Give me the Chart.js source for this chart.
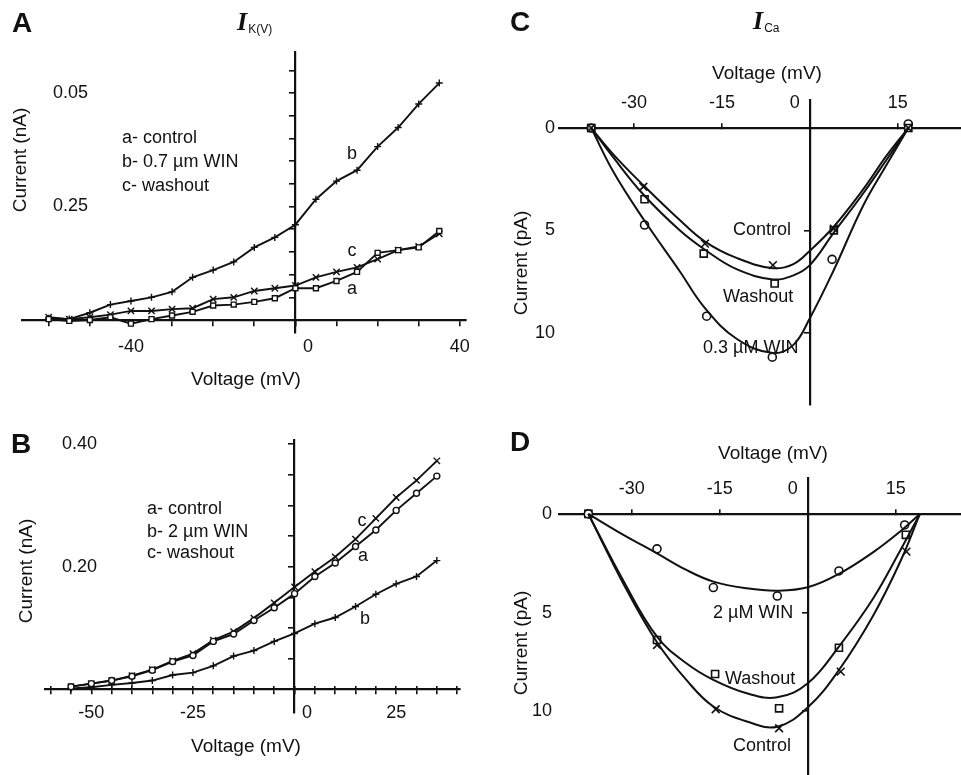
<!DOCTYPE html>
<html>
<head>
<meta charset="utf-8">
<title>I K(V) and I Ca current-voltage curves</title>
<script src="https://cdn.jsdelivr.net/npm/chart.js@4/dist/chart.umd.min.js"></script>
<style>
  body { margin: 0; background: #fff; }
  #fig { position: relative; width: 961px; height: 775px; overflow: hidden; font-family: "Liberation Sans", Arial, sans-serif; color: #111; }
  #fig canvas { position: absolute; }
  .t { position: absolute; white-space: nowrap; font-size: 18px; line-height: 1; }
  .mid { transform: translate(-50%, -50%); }
  .lft { transform: translateY(-50%); }
  .rot { transform: translate(-50%, -50%) rotate(-90deg); }
  .ax { font-size: 19px; }
  .panel { font-weight: bold; font-size: 28px; }
  .cur { font-family: "Liberation Serif", serif; font-style: italic; font-weight: bold; font-size: 26px; }
  .cur span { font-family: "Liberation Sans", Arial, sans-serif; font-style: normal; font-weight: normal; font-size: 12px; vertical-align: -3px; margin-left: 1px; }
</style>
</head>
<body>
<div id="fig">
  <canvas id="chartA" width="480" height="395" style="left:0;top:0"></canvas>
  <canvas id="chartB" width="480" height="380" style="left:0;top:395px"></canvas>
  <canvas id="chartC" width="481" height="420" style="left:480px;top:0"></canvas>
  <canvas id="chartD" width="481" height="355" style="left:480px;top:420px"></canvas>

  <!-- panel A -->
  <div class="t panel mid" style="left:22px;top:23px">A</div>
  <div class="t cur" style="left:237px;top:9px">I<span>K(V)</span></div>
  <div class="t lft" style="left:122px;top:137px">a- control</div>
  <div class="t lft" style="left:122px;top:161px">b- 0.7 µm WIN</div>
  <div class="t lft" style="left:122px;top:185px">c- washout</div>
  <div class="t mid" style="left:352px;top:153px">b</div>
  <div class="t mid" style="left:352px;top:250px">c</div>
  <div class="t mid" style="left:352px;top:288px">a</div>
  <div class="t ax mid" style="left:246px;top:378px">Voltage (mV)</div>
  <div class="t ax rot" style="left:19px;top:160px">Current (nA)</div>

  <!-- panel B -->
  <div class="t panel mid" style="left:21px;top:444px">B</div>
  <div class="t lft" style="left:147px;top:508px">a- control</div>
  <div class="t lft" style="left:147px;top:531px">b- 2 µm WIN</div>
  <div class="t lft" style="left:147px;top:552px">c- washout</div>
  <div class="t mid" style="left:362px;top:520px">c</div>
  <div class="t mid" style="left:363px;top:555px">a</div>
  <div class="t mid" style="left:365px;top:618px">b</div>
  <div class="t ax mid" style="left:246px;top:745px">Voltage (mV)</div>
  <div class="t ax rot" style="left:25px;top:571px">Current (nA)</div>

  <!-- panel C -->
  <div class="t panel mid" style="left:520px;top:22px">C</div>
  <div class="t cur" style="left:753px;top:8px">I<span>Ca</span></div>
  <div class="t ax mid" style="left:767px;top:72px">Voltage (mV)</div>
  <div class="t ax rot" style="left:520px;top:263px">Current (pA)</div>
  <div class="t lft" style="left:733px;top:229px">Control</div>
  <div class="t lft" style="left:723px;top:296px">Washout</div>
  <div class="t lft" style="left:703px;top:347px">0.3 µM WIN</div>

  <!-- panel D -->
  <div class="t panel mid" style="left:520px;top:442px">D</div>
  <div class="t ax mid" style="left:773px;top:452px">Voltage (mV)</div>
  <div class="t ax rot" style="left:520px;top:643px">Current (pA)</div>
  <div class="t lft" style="left:713px;top:612px">2 µM WIN</div>
  <div class="t lft" style="left:725px;top:678px">Washout</div>
  <div class="t lft" style="left:733px;top:745px">Control</div>
</div>

<script>
const INK = '#111';
const TICK_FONT = { family: 'Liberation Sans', size: 18 };

// ---- A : I K(V), 0.7 µM WIN (current in nA) ----
const aVolts = [-60, -55, -50, -45, -40, -35, -30, -25, -20, -15, -10, -5, 0, 5, 10, 15, 20, 25, 30, 35];
const aControl = [0.001, -0.001, 0.000, 0.003, -0.004, 0.001, 0.005, 0.009, 0.016, 0.017, 0.020, 0.024, 0.035, 0.035, 0.043, 0.053, 0.074, 0.077, 0.080, 0.098];
const aWin = [0.002, 0.001, 0.008, 0.017, 0.021, 0.025, 0.031, 0.047, 0.055, 0.064, 0.080, 0.091, 0.105, 0.133, 0.153, 0.165, 0.191, 0.212, 0.238, 0.261];
const aWashout = [0.003, 0.001, 0.003, 0.006, 0.010, 0.010, 0.012, 0.013, 0.023, 0.025, 0.032, 0.035, 0.038, 0.047, 0.053, 0.058, 0.067, 0.077, 0.081, 0.095];
const aXTicks = [-60, -50, -40, -30, -20, -10, 0, 10, 20, 30, 40];
const aXLabelVals = [-40, 0, 40];
const aXLabels = ['-40', '0', '40'];
const aYTicks = [0.025, 0.05, 0.075, 0.1, 0.125, 0.15, 0.175, 0.2, 0.225, 0.25, 0.275];
const aYLabelVals = [0.125, 0.25];
const aYLabels = ['0.25', '0.05'];

// ---- B : I K(V), 2 µM WIN (current in nA) ----
const bVolts = [-55, -50, -45, -40, -35, -30, -25, -20, -15, -10, -5, 0, 5, 10, 15, 20, 25, 30, 35];
const bControl = [0.004, 0.009, 0.014, 0.021, 0.031, 0.045, 0.055, 0.078, 0.090, 0.112, 0.133, 0.156, 0.184, 0.206, 0.233, 0.260, 0.292, 0.320, 0.348];
const bWin = [0.001, 0.003, 0.007, 0.010, 0.014, 0.023, 0.027, 0.038, 0.054, 0.063, 0.078, 0.091, 0.107, 0.117, 0.135, 0.155, 0.172, 0.184, 0.210];
const bWashout = [0.004, 0.009, 0.014, 0.022, 0.032, 0.046, 0.058, 0.080, 0.094, 0.116, 0.141, 0.167, 0.192, 0.216, 0.245, 0.279, 0.313, 0.341, 0.373];
const bXTicks = [-60, -55, -50, -45, -40, -35, -30, -25, -20, -15, -10, -5, 0, 5, 10, 15, 20, 25, 30, 35, 40];
const bXLabelVals = [-50, -25, 0, 25];
const bXLabels = ['-50', '-25', '0', '25'];
const bYTicks = [0.05, 0.1, 0.15, 0.2, 0.25, 0.3, 0.35, 0.4];
const bYLabelVals = [0.2, 0.4];
const bYLabels = ['0.20', '0.40'];

// ---- C : I Ca, 0.3 µM WIN (current in pA, drawn downwards) ----
const cFitVolts = [-37.3, -33.5, -28.4, -22.2, -17.9, -12.5, -6.3, -2.8, 0, 4, 9.1, 13.1, 16.8];
const cControlFit = [0, 1.3, 2.8, 4.5, 5.55, 6.35, 6.85, 6.65, 6.0, 4.85, 3.0, 1.35, 0];
const cWashoutFit = [0, 1.45, 3.25, 5.0, 5.95, 6.9, 7.4, 7.2, 6.7, 5.15, 3.2, 1.55, 0];
const cWinFit = [0, 2.15, 4.45, 7.0, 8.8, 10.3, 11.0, 10.6, 9.3, 7.0, 3.8, 1.8, 0];
const cControlVolts = [-37.3, -28.4, -17.9, -6.3, 4.1, 16.8];
const cControl = [0, 2.87, 5.65, 6.7, 4.92, 0];
const cWashoutVolts = [-37.3, -28.2, -18.1, -6.0, 4.1, 16.8];
const cWashout = [0, 3.48, 6.14, 7.6, 5.0, 0];
const cWinVolts = [-37.3, -28.2, -17.6, -6.4, 3.8, 16.8];
const cWin = [0, 4.74, 9.2, 11.2, 6.42, -0.2];
const cXTicks = [-30, -15, 0, 15];
const cXLabels = ['-30', '-15', '0', '15'];
const cYTicks = [5, 10];
const cYLabelVals = [0, 5, 10];
const cYLabels = ['0', '5', '10'];

// ---- D : I Ca, 2 µM WIN (current in pA, drawn downwards) ----
const dFitVolts = [-37.4, -31.5, -25.7, -20.7, -16.1, -10.4, -5.2, 0, 5.3, 11.1, 15.7, 19.1];
const dWinFit = [0, 1.05, 2.0, 2.84, 3.43, 3.77, 3.89, 3.72, 3.04, 1.95, 0.9, 0];
const dWashoutFit = [0, 3.35, 6.22, 7.57, 8.41, 9.09, 9.29, 8.58, 6.72, 4.3, 1.88, 0];
const dControlFit = [0, 3.5, 6.5, 8.41, 9.76, 10.52, 10.78, 9.8, 7.91, 5.17, 2.45, 0];
const dWinVolts = [-37.4, -25.7, -16.1, -5.2, 5.3, 16.5];
const dWin = [0, 1.77, 3.73, 4.16, 2.89, 0.56];
const dWashoutVolts = [-37.4, -25.7, -15.8, -4.9, 5.3, 16.7];
const dWashout = [0, 6.39, 8.11, 9.85, 6.78, 1.06];
const dControlVolts = [-37.4, -25.7, -15.7, -4.9, 5.6, 16.8];
const dControl = [0, 6.64, 9.9, 10.86, 7.99, 1.91];
const dXTicks = [-30, -15, 0, 15];
const dXLabels = ['-30', '-15', '0', '15'];
const dYTicks = [5, 10];
const dYLabelVals = [0, 5, 10];
const dYLabels = ['0', '5', '10'];

function pts(xs, ys) { return xs.map((x, i) => ({ x: x, y: ys[i] })); }

// measured points joined by straight segments (panels A, B)
function trace(xs, ys, style, r) {
  return { data: pts(xs, ys), showLine: true, borderColor: INK, borderWidth: 1.9, pointStyle: style, pointRadius: r,
           pointBorderColor: INK, pointBackgroundColor: '#fff', pointBorderWidth: 1.4, clip: false };
}
// smooth fitted curve (panels C, D)
function fit(xs, ys) {
  return { data: pts(xs, ys), showLine: true, tension: 0.4, borderColor: INK, borderWidth: 2, pointRadius: 0, clip: false };
}
// symbols only
function marks(xs, ys, style, r) {
  return { data: pts(xs, ys), showLine: false, pointStyle: style, pointRadius: r, pointBorderColor: INK,
           pointBackgroundColor: '#fff', pointBorderWidth: 1.6, clip: false };
}

// axes take no layout room, the chart area is set by the padding alone
function flat(s) {
  if (s.isHorizontal()) s.height = 0; else s.width = 0;
  s.paddingLeft = s.paddingRight = s.paddingTop = s.paddingBottom = 0;
}

function tickLabel(vals, labels, zeroShift) {
  return v => {
    const i = vals.indexOf(v);
    if (i < 0) return '';
    const s = labels[i];
    if (v !== 0 || !zeroShift) return s;
    const gap = ' '.repeat(Math.abs(zeroShift));
    return zeroShift > 0 ? gap + s : s + gap;
  };
}

function ivChart(id, p) {
  const scales = {
    x: {
      type: 'linear', position: { y: 0 }, min: p.xMin, max: p.xMax,
      border: { display: true, color: INK, width: 2.2 },
      grid: { display: true, drawOnChartArea: false, drawTicks: true, tickLength: p.xTickLen, color: INK, lineWidth: 1.6 },
      ticks: { autoSkip: false, maxRotation: 0, padding: p.xLabelPad, color: INK, font: TICK_FONT,
               callback: tickLabel(p.xLabelVals, p.xLabels, p.zeroShift) },
      afterBuildTicks: s => { s.ticks = p.xTicks.map(v => ({ value: v })); },
      afterFit: flat
    },
    y: {
      type: 'linear', position: { x: 0 }, min: p.yMin, max: p.yMax, reverse: p.reverse,
      border: { display: true, color: INK, width: 2.2 },
      grid: { display: true, drawOnChartArea: false, drawTicks: true, tickLength: 5, color: INK, lineWidth: 1.6 },
      ticks: { display: false },
      afterBuildTicks: s => { s.ticks = p.yTicks.map(v => ({ value: v })); },
      afterFit: flat
    },
    // value labels sit away from the axis line, on the far left
    yl: {
      type: 'linear', axis: 'y', position: 'left', min: p.yMin, max: p.yMax, reverse: p.reverse,
      border: { display: false },
      grid: { display: false, drawTicks: false },
      ticks: { mirror: true, crossAlign: 'far', autoSkip: false, padding: p.yLabelPad, color: INK, font: TICK_FONT,
               callback: tickLabel(p.yLabelVals, p.yLabels, 0) },
      afterBuildTicks: s => { s.ticks = p.yLabelVals.map(v => ({ value: v })); },
      afterFit: flat
    }
  };
  // tick marks poking above the voltage axis too
  if (p.xTickUp) {
    scales.x2 = {
      type: 'linear', axis: 'x', position: { y: 0 }, min: p.xMin, max: p.xMax,
      border: { display: false },
      grid: { display: true, drawOnChartArea: false, drawTicks: true, tickLength: -p.xTickUp, color: INK, lineWidth: 1.6 },
      ticks: { display: false },
      afterBuildTicks: s => { s.ticks = p.xTicks.map(v => ({ value: v })); },
      afterFit: flat
    };
  }
  return new Chart(document.getElementById(id), {
    type: 'scatter',
    data: { datasets: p.datasets },
    options: {
      responsive: false, animation: false, events: [],
      layout: { autoPadding: false, padding: p.pad },
      plugins: { legend: { display: false }, tooltip: { enabled: false } },
      scales: scales
    }
  });
}

ivChart('chartA', {
  pad: { left: 22, right: 14, top: 52, bottom: 62 },
  xMin: -66.5, xMax: 41.5, yMin: -0.0143, yMax: 0.2952, reverse: false,
  xTicks: aXTicks, xLabelVals: aXLabelVals, xLabels: aXLabels, xTickLen: 5, xLabelPad: 11, zeroShift: 5,
  yTicks: aYTicks, yLabelVals: aYLabelVals, yLabels: aYLabels, yLabelPad: 31,
  datasets: [
    trace(aVolts, aControl, 'rect', 3.5),
    trace(aVolts, aWin, 'cross', 3.5),
    trace(aVolts, aWashout, 'crossRot', 4.5)
  ]
});

ivChart('chartB', {
  pad: { left: 45, right: 20, top: 45, bottom: 62 },
  xMin: -61.4, xMax: 40.7, yMin: -0.039, yMax: 0.407, reverse: false,
  xTicks: bXTicks, xLabelVals: bXLabelVals, xLabels: bXLabels, xTickLen: 4, xTickUp: 3, xLabelPad: 9, zeroShift: 5,
  yTicks: bYTicks, yLabelVals: bYLabelVals, yLabels: bYLabels, yLabelPad: 17,
  datasets: [
    trace(bVolts, bControl, 'circle', 3),
    trace(bVolts, bWin, 'cross', 3.5),
    trace(bVolts, bWashout, 'crossRot', 4.5)
  ]
});

ivChart('chartC', {
  pad: { left: 79, right: 0, top: 100, bottom: 15 },
  xMin: -42.8, xMax: 25.8, yMin: -1.37, yMax: 13.54, reverse: true,
  xTicks: cXTicks, xLabelVals: cXTicks, xLabels: cXLabels, xTickLen: -6, xLabelPad: -30, zeroShift: -6,
  yTicks: cYTicks, yLabelVals: cYLabelVals, yLabels: cYLabels, yLabelPad: -24,
  datasets: [
    fit(cFitVolts, cControlFit),
    fit(cFitVolts, cWashoutFit),
    fit(cFitVolts, cWinFit),
    marks(cControlVolts, cControl, 'crossRot', 5.5),
    marks(cWashoutVolts, cWashout, 'rect', 5),
    marks(cWinVolts, cWin, 'circle', 4)
  ]
});

ivChart('chartD', {
  pad: { left: 79, right: 0, top: 58, bottom: 0 },
  xMin: -42.4, xMax: 26.1, yMin: -1.82, yMax: 13.23, reverse: true,
  xTicks: dXTicks, xLabelVals: dXTicks, xLabels: dXLabels, xTickLen: -6, xLabelPad: -30, zeroShift: -6,
  yTicks: dYTicks, yLabelVals: dYLabelVals, yLabels: dYLabels, yLabelPad: -27,
  datasets: [
    fit(dFitVolts, dWinFit),
    fit(dFitVolts, dWashoutFit),
    fit(dFitVolts, dControlFit),
    marks(dWinVolts, dWin, 'circle', 4),
    marks(dWashoutVolts, dWashout, 'rect', 5),
    marks(dControlVolts, dControl, 'crossRot', 5.5)
  ]
});
</script>
</body>
</html>
